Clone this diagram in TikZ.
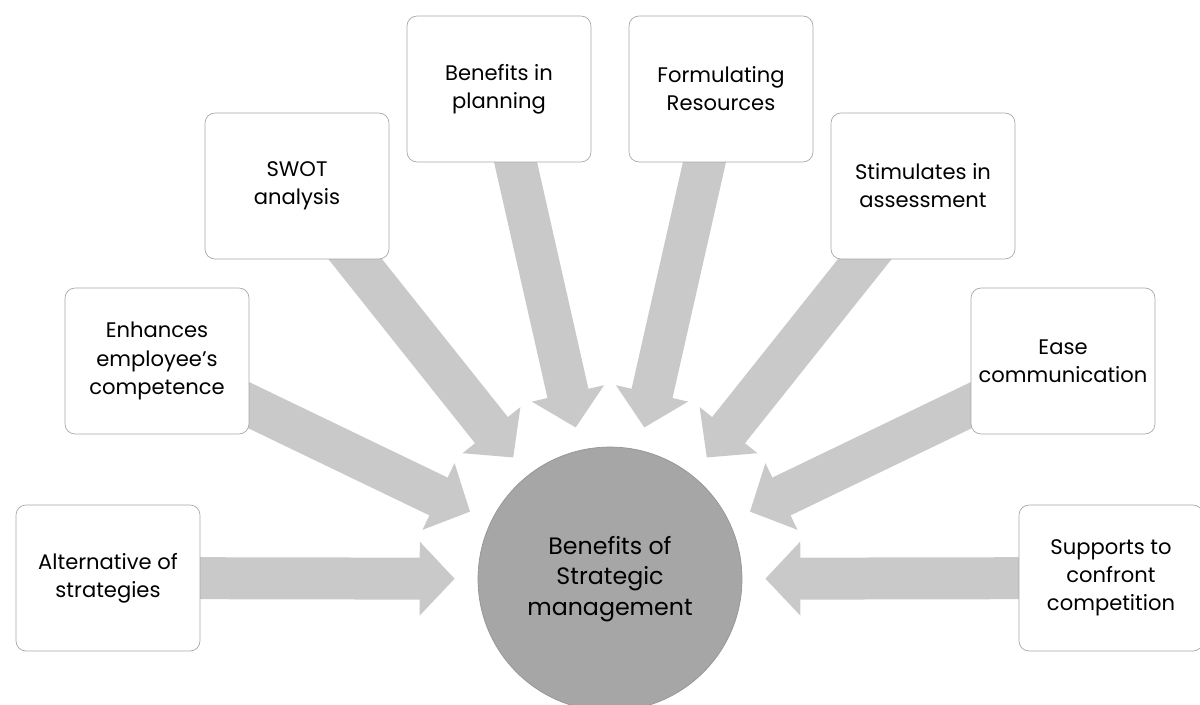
\documentclass[tikz,border=0pt]{standalone}
\usepackage{fontspec}
\setmainfont{Poppins}
\usetikzlibrary{arrows.meta,backgrounds}
\definecolor{boxline}{HTML}{A8A8A8}
\definecolor{flowgray}{HTML}{C9C9C9}
\definecolor{hubgray}{HTML}{A6A6A6}
\definecolor{hubline}{HTML}{959595}
\begin{document}
\begin{tikzpicture}[x=0.02cm,y=-0.02cm,
				every node/.style={align=center,font=\fontsize{12}{16}\selectfont},
				benefit/.style={draw=boxline,fill=white,rounded corners=0.2cm,minimum width=3.68cm,minimum height=2.92cm,inner sep=0pt},
				hub/.style={circle,draw=hubline,fill=hubgray,minimum size=5.28cm,inner sep=0pt,font=\fontsize{13.5}{17.5}\selectfont},
				flow/.style={draw=flowgray,line width=0.84cm,-{Triangle[width=1.44cm,length=0.7cm]},shorten >=0.46cm}]
\useasboundingbox (0,0) rectangle (1200,704);
\node[hub] (hub) at (610,579) {Benefits of\\Strategic\\management};
\node[benefit] (alt) at (108,578) {Alternative of\\strategies};
\node[benefit] (enh) at (157,361) {Enhances\\employee's\\competence};
\node[benefit] (swot) at (297,186) {SWOT\\analysis};
\node[benefit] (plan) at (499,89) {Benefits in\\planning};
\node[benefit] (form) at (721,89) {Formulating\\Resources};
\node[benefit] (stim) at (923,186) {Stimulates in\\assessment};
\node[benefit] (ease) at (1063,361) {Ease\\communication};
\node[benefit] (supp) at (1111,578) {Supports to\\confront\\competition};
\begin{scope}[on background layer]
	\foreach \src in {alt,enh,swot,plan,form,stim,ease,supp}
		\draw[flow] (\src.center) -- (hub);
\end{scope}
\end{tikzpicture}
\end{document}
